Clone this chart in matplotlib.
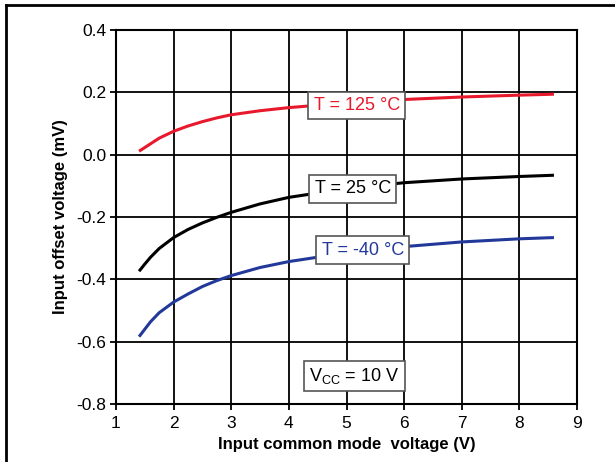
import numpy as np
import matplotlib
matplotlib.use("Agg")
from matplotlib import pyplot as plt
from matplotlib.lines import Line2D

plt.rcParams['font.family'] = ['Liberation Sans', 'DejaVu Sans']
plt.rcParams['axes.unicode_minus'] = False

# input common mode voltage (V)
vcm = [1.4, 1.5, 1.6, 1.75, 2.0, 2.25, 2.5, 2.75, 3.0, 3.5, 4.0, 5.0, 6.0, 7.0, 8.0, 8.6]
# input offset voltage (mV) per temperature
vos_125 = [0.011, 0.023, 0.035, 0.053, 0.075, 0.092, 0.106, 0.118, 0.128, 0.141, 0.151,
           0.166, 0.177, 0.185, 0.191, 0.194]
vos_25 = [-0.374, -0.351, -0.329, -0.301, -0.266, -0.240, -0.219, -0.201, -0.185, -0.158, -0.137,
          -0.109, -0.090, -0.078, -0.070, -0.066]
vos_m40 = [-0.584, -0.560, -0.536, -0.507, -0.473, -0.447, -0.423, -0.404, -0.388, -0.362, -0.343,
           -0.315, -0.295, -0.280, -0.270, -0.266]

labels = ["T = 125 °C", "T = 25 °C", "T = -40 °C"]
colors = ["#e8192c", "#000000", "#23399a"]
label_pos = [(5.18, 0.158), (5.11, -0.11), (5.28, -0.307)]

xticks = list(range(1, 10))
yticks = [-0.8, -0.6, -0.4, -0.2, 0.0, 0.2, 0.4]
ytick_labels = ["-0.8", "-0.6", "-0.4", "-0.2", "0.0", "0.2", "0.4"]

fig = plt.figure(figsize=(6.15, 4.62), dpi=100)
ax = fig.add_axes([116/615, 1-404/462, (577-116)/615, (404-30)/462])

for ys, c in zip([vos_125, vos_25, vos_m40], colors):
    ax.plot(vcm, ys, color=c, lw=2.2, solid_capstyle='butt', solid_joinstyle='round', zorder=3)

for (lx, ly), txt, c in zip(label_pos, labels, colors):
    ax.text(lx, ly, txt, color=c, fontsize=13, ha='center', va='center', zorder=4,
            bbox=dict(boxstyle='square,pad=0.3', fc='white', ec='#555555', lw=1.2))

ax.text(5.14, -0.71, r"V$_{\mathregular{CC}}$ = 10 V", color='black', fontsize=13,
        ha='center', va='center', zorder=4,
        bbox=dict(boxstyle='square,pad=0.3', fc='white', ec='#555555', lw=1.2))

ax.set_xlim(1, 9)
ax.set_ylim(-0.8, 0.4)
ax.set_xticks(xticks)
ax.set_yticks(yticks)
ax.set_yticklabels(ytick_labels)
ax.grid(True, color='black', lw=1.3)
ax.tick_params(direction='out', length=4, width=1.3, labelsize=12.5, pad=3)
ax.tick_params(axis='x', pad=5)
for s in ax.spines.values():
    s.set_linewidth(1.5)

ax.set_xlabel("Input common mode  voltage (V)", fontsize=12, fontweight='bold', labelpad=4)
ax.set_ylabel("Input offset voltage (mV)", fontsize=12, fontweight='bold', labelpad=6)

# page frame around the chart
fig.add_artist(Line2D([6/615, 6/615], [0, 1-5/462], color='black', lw=2, transform=fig.transFigure))
fig.add_artist(Line2D([6/615, 1], [1-5/462, 1-5/462], color='black', lw=2, transform=fig.transFigure))

fig.savefig("out.png", dpi=100)
